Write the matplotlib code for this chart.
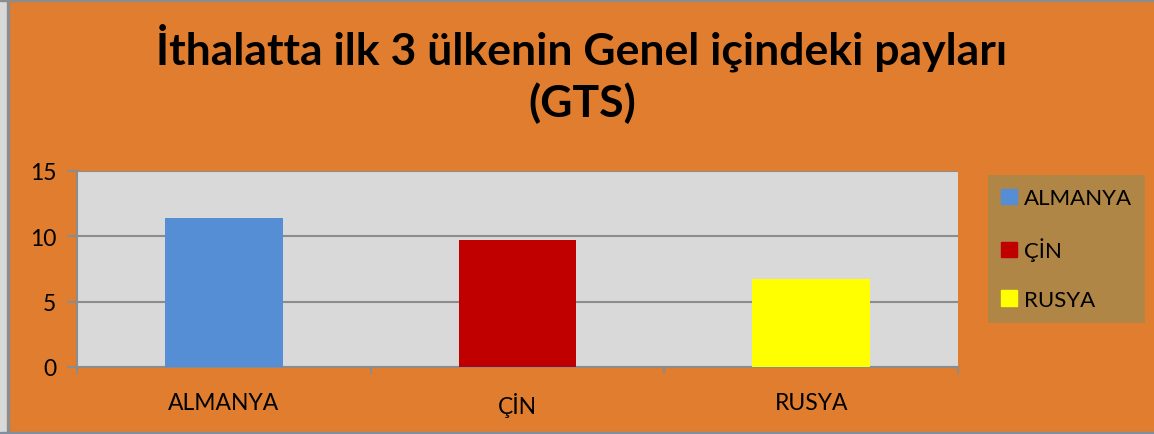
import matplotlib.pyplot as plt
from matplotlib.patches import Patch, Rectangle

countries = ["ALMANYA", "ÇİN", "RUSYA"]
shares = [11.4, 9.7, 6.7]
colors = ["#558ED5", "#C00000", "#FFFF00"]
title = "İthalatta ilk 3 ülkenin Genel içindeki payları\n(GTS)"

W, H = 1154, 435
plt.rcParams["font.family"] = ["Lato", "DejaVu Sans"]
fig = plt.figure(figsize=(W / 100, H / 100), dpi=100)
fig.patch.set_facecolor("#E07D2E")

# outer frame like the screenshot
fig.patches.append(Rectangle((0, 0), 8 / W, 1, transform=fig.transFigure,
                             color="#D9D9D9", zorder=0))
fig.patches.append(Rectangle((7 / W, 0), 2 / W, 1, transform=fig.transFigure,
                             color="#8C8C8C", zorder=0))
fig.patches.append(Rectangle((0, 1 - 2 / H), 1, 2 / H, transform=fig.transFigure,
                             color="#8C8C8C", zorder=0))
fig.patches.append(Rectangle((0, 0), 1, 2 / H, transform=fig.transFigure,
                             color="#7F8FA0", zorder=0))

ax = fig.add_axes([77 / W, 67 / H, 881 / W, 196 / H])
ax.set_facecolor("#D9D9D9")
x = range(len(countries))
ax.bar(x, shares, width=0.4, color=colors, zorder=3)

ax.set_ylim(0, 15)
ax.set_yticks([0, 5, 10, 15])
ax.set_xlim(-0.5, 2.5)
ax.set_xticks(list(x))
ax.set_xticklabels(countries)
ax.set_xticks([-0.5, 0.5, 1.5, 2.5], minor=True)
ax.grid(axis="y", color="#8C8C8C", lw=1.5, zorder=1)
for s in ["top", "right"]:
    ax.spines[s].set_visible(False)
for s in ["left", "bottom"]:
    ax.spines[s].set_color("#8C8C8C")
    ax.spines[s].set_linewidth(1.5)
ax.tick_params(axis="y", length=7, width=1.5, color="#8C8C8C", labelsize=16.5, pad=8)
ax.tick_params(axis="x", which="major", length=0, labelsize=16.5, pad=18)
ax.tick_params(axis="x", which="minor", length=5, width=1.5, color="#8C8C8C")

fig.text(582 / W, 1 - 24 / H, title, ha="center", va="top",
         fontsize=32, fontweight="bold", linespacing=1.3)

handles = [Patch(color=c) for c in colors]
leg = fig.legend(handles, countries, loc="upper left",
                 bbox_to_anchor=(988 / W, 1 - 176 / H), borderaxespad=0,
                 fontsize=16, frameon=True, facecolor="#AF8646", edgecolor="none",
                 framealpha=1, fancybox=False, handlelength=0.7, handleheight=0.7,
                 handletextpad=0.3, labelspacing=1.3, borderpad=0.6)

fig.savefig("out.png", dpi=100, facecolor=fig.get_facecolor())
